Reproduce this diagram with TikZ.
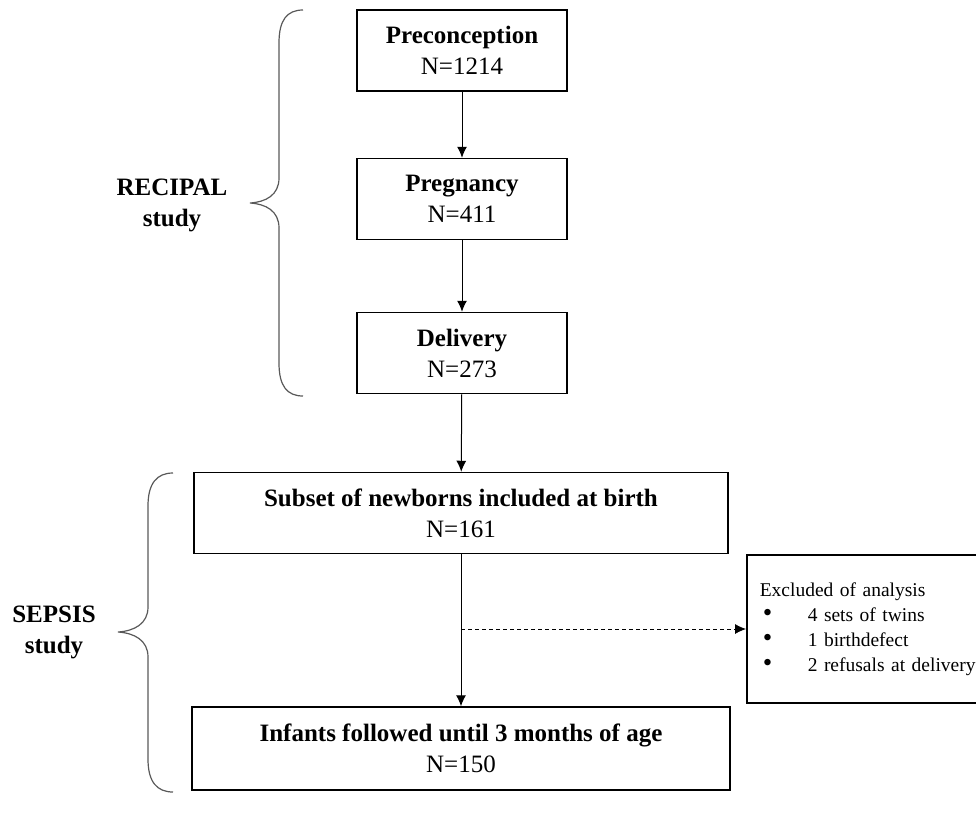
\documentclass[tikz,border=0pt]{standalone}
\usepackage{fontspec}
\setmainfont{Liberation Serif}
\usetikzlibrary{arrows.meta}

\newcommand{\exclbullet}{\hspace*{3pt}\makebox[45pt][l]{\raisebox{-0.5pt}{\fontsize{27}{25}\selectfont\textbullet}}}

\begin{document}
\begin{tikzpicture}[x=1pt, y=-1pt,
    stage/.style={draw, line width=1.5pt, align=center, minimum height=81pt,
      inner sep=0pt, font=\fontsize{25}{31}\selectfont},
    brace/.style={draw=black!65, line width=1.2pt},
    flow/.style={>={Latex[length=11pt,width=10pt]}, ->, line width=1pt}]
    \useasboundingbox (0,0) rectangle (976,817);
    % RECIPAL part
    \node [stage, minimum width=210pt] (precon) at (462,50.5) {\textbf{Preconception}\\N=1214};
    \node [stage, minimum width=210pt] (preg) at (462,199) {\textbf{Pregnancy}\\N=411};
    \node [stage, minimum width=210pt] (deliv) at (462,353) {\textbf{Delivery}\\N=273};
    % SEPSIS part
    \node [stage, minimum width=534pt] (subset) at (461,513) {\textbf{Subset of newborns included at birth}\\N=161};
    \node [stage, minimum width=538pt, minimum height=83pt] (infants) at (461,748.5) {\textbf{Infants followed until 3 months of age}\\N=150};
    \node [draw, line width=1.5pt, anchor=west, inner xsep=13pt, inner ysep=0pt, text width=230pt,
      minimum height=148pt, align=left, font=\fontsize{19.5}{25}\selectfont] (excl) at (746,629)
      {Excluded of analysis\\
       \exclbullet 4 sets of twins\\
       \exclbullet 1 birthdefect\\
       \exclbullet 2 refusals at delivery};
    \coordinate (split) at (subset.south |- excl.west);
    \draw [flow] (precon) -- (preg);
    \draw [flow] (preg) -- (deliv);
    \draw [flow] (deliv) -- (subset);
    \draw [flow] (subset) -- (infants);
    \draw [flow, line width=0.8pt, dash pattern=on 4pt off 3pt] (split) -- (excl.west);
    % braces and study labels
    \draw [brace] (303,10) .. controls (287,10) and (279,20) .. (279,43) -- (279,178)
      .. controls (279,195) and (266,202) .. (250,203)
      .. controls (266,204) and (279,211) .. (279,228) -- (279,363)
      .. controls (279,386) and (287,396) .. (303,396);
    \node [align=center, font=\bfseries\fontsize{25}{31}\selectfont] (recipal) at (172,205) {RECIPAL\\study};
    \draw [brace] (173,473) .. controls (157,473) and (148,483) .. (148,506) -- (148,607)
      .. controls (148,624) and (134,631) .. (118,632)
      .. controls (134,633) and (148,640) .. (148,657) -- (148,759)
      .. controls (148,782) and (157,792) .. (173,792);
    \node [align=center, font=\bfseries\fontsize{25}{31}\selectfont] (sepsis) at (54,632) {SEPSIS\\study};
\end{tikzpicture}
\end{document}
